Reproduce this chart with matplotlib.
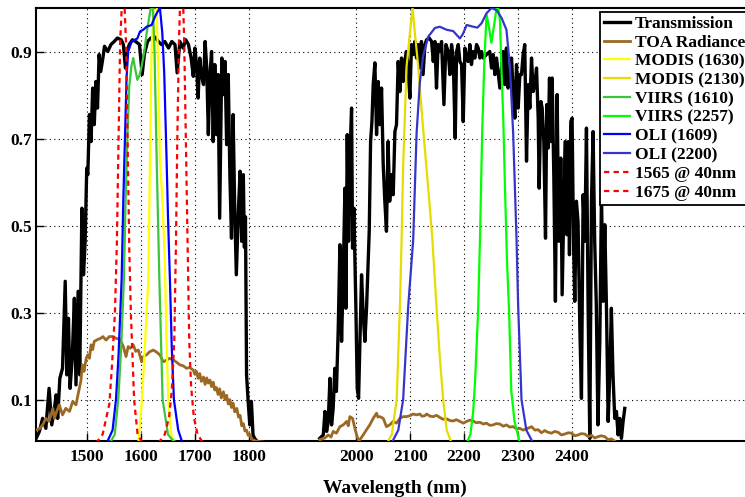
import numpy as np
import matplotlib
matplotlib.use("Agg")
import matplotlib.pyplot as plt

plt.rcParams['font.family'] = ['Liberation Serif', 'DejaVu Serif']
plt.rcParams['font.weight'] = 'bold'

# ---------------- data ----------------
trans_left_wl = [1405, 1411, 1417, 1423, 1429, 1434, 1439, 1442, 1445, 1449, 1454, 1459, 1462, 1465,
                 1468, 1472, 1476, 1479, 1483, 1486, 1490, 1493, 1496, 1499, 1501, 1504, 1507, 1510,
                 1513, 1516, 1519, 1522, 1525, 1529, 1532, 1538, 1544, 1550, 1556, 1563, 1567, 1571,
                 1574, 1578, 1584, 1590, 1597, 1602, 1606, 1612, 1618, 1626, 1632, 1638, 1644, 1651,
                 1657, 1663, 1667, 1672, 1678, 1683, 1688, 1693, 1697, 1700, 1703, 1706, 1709, 1712,
                 1716, 1719, 1722, 1725, 1728, 1731, 1734, 1737, 1740, 1743, 1746, 1750, 1753, 1756,
                 1759, 1762, 1765, 1768, 1771, 1774, 1777, 1781, 1784, 1787, 1790, 1792, 1794, 1796,
                 1799, 1802, 1805, 1808, 1811, 1815]
trans_left = [0.011, 0.027, 0.057, 0.034, 0.126, 0.042, 0.080, 0.111, 0.057, 0.149, 0.172, 0.372, 0.157, 0.287,
              0.126, 0.195, 0.333, 0.134, 0.349, 0.157, 0.540, 0.387, 0.464, 0.632, 0.617, 0.755, 0.693, 0.816,
              0.732, 0.831, 0.770, 0.893, 0.854, 0.885, 0.912, 0.900, 0.916, 0.923, 0.931, 0.927, 0.916, 0.862,
              0.900, 0.916, 0.927, 0.923, 0.916, 0.847, 0.893, 0.923, 0.931, 0.933, 0.923, 0.916, 0.923, 0.908,
              0.923, 0.916, 0.851, 0.923, 0.908, 0.927, 0.916, 0.885, 0.843, 0.908, 0.870, 0.793, 0.885, 0.847,
              0.824, 0.923, 0.862, 0.709, 0.847, 0.900, 0.693, 0.870, 0.709, 0.847, 0.517, 0.885, 0.801, 0.877,
              0.686, 0.847, 0.617, 0.471, 0.755, 0.540, 0.387, 0.540, 0.625, 0.464, 0.617, 0.450, 0.520, 0.157,
              0.096, 0.042, 0.096, 0.019, 0.011, 0.005]

trans_right_wl = [1932, 1938.6, 1941.7, 1944.8, 1947.8, 1951, 1954, 1957, 1960, 1963, 1966.4, 1969.5, 1972.6,
                  1975.7, 1978.8, 1980.7, 1983.1, 1985.6, 1988, 1991.2, 1993, 1995.5, 1999.2, 2001.7, 2004.2,
                  2006.7, 2009.7, 2012.8, 2015.9, 2019, 2024, 2026.5, 2029, 2031.4, 2034.5, 2037.6, 2040.7,
                  2043.8, 2046.9, 2050, 2053, 2056, 2059, 2062, 2065.5, 2068.6, 2071.7, 2074.7, 2077.8, 2080.9,
                  2084, 2087, 2090, 2093, 2096, 2099.5, 2102.6, 2105.7, 2108.8, 2111.9, 2115, 2118, 2121, 2124,
                  2127.5, 2130.6, 2135.5, 2139.9, 2143, 2146, 2149, 2152, 2155.3, 2158.4, 2162.8, 2166.5, 2170.8,
                  2173.9, 2177, 2180, 2183.8, 2186.3, 2189.4, 2192.5, 2195.6, 2198.7, 2201.8, 2204.9, 2208, 2211,
                  2214, 2217, 2220.3, 2223.4, 2226.5, 2229.6, 2232.7, 2235.8, 2242, 2248, 2251.3, 2254.4, 2257.5,
                  2260.6, 2266.8, 2269.9, 2273, 2276, 2279, 2282, 2285.3, 2288.4, 2291.5, 2294.6, 2297.7, 2300.8,
                  2303.9, 2307, 2310, 2313, 2316.3, 2319.4, 2322.5, 2325.6, 2328.7, 2331.8, 2334.9, 2338, 2339.8,
                  2343, 2345.4, 2348.5, 2351.6, 2354, 2356.5, 2359, 2361.5, 2364, 2367, 2370, 2373.2, 2376.3,
                  2380, 2382.5, 2385.6, 2388, 2391.2, 2393.7, 2396.1, 2398.6, 2401, 2403.6, 2406, 2409, 2412,
                  2415.3, 2418.4, 2421.5, 2424.6, 2427.7, 2430.8, 2433.9, 2437, 2440, 2443, 2446, 2449, 2452.5,
                  2455.6, 2458.7, 2461.8, 2464.9, 2468, 2471, 2474, 2477, 2480.3, 2483.4, 2486.5, 2489.6, 2492.7,
                  2495.8, 2498.9]
trans_right = [0.011, 0.019, 0.073, 0.027, 0.050, 0.149, 0.042, 0.080, 0.172, 0.119, 0.264, 0.456, 0.234,
               0.387, 0.586, 0.310, 0.709, 0.464, 0.655, 0.770, 0.448, 0.540, 0.310, 0.126, 0.103,
               0.234, 0.387, 0.295, 0.234, 0.310, 0.487, 0.693, 0.739, 0.824, 0.874, 0.709, 0.831,
               0.732, 0.816, 0.640, 0.556, 0.487, 0.693, 0.556, 0.617, 0.571, 0.716, 0.732, 0.877, 0.808,
               0.885, 0.831, 0.877, 0.900, 0.870, 0.793, 0.916, 0.893, 0.923, 0.885, 0.916, 0.862, 0.923, 0.847,
               0.916, 0.927, 0.931, 0.923, 0.877, 0.923, 0.816, 0.916, 0.900, 0.923, 0.778, 0.916, 0.900,
               0.847, 0.916, 0.885, 0.701, 0.900, 0.916, 0.877, 0.870, 0.739, 0.908, 0.885, 0.877, 0.916,
               0.870, 0.900, 0.885, 0.916, 0.908, 0.885, 0.900, 0.885, 0.893, 0.900, 0.862, 0.893, 0.847,
               0.885, 0.816, 0.862, 0.900, 0.824, 0.908, 0.816, 0.839, 0.885, 0.808, 0.747, 0.870, 0.770,
               0.847, 0.847, 0.893, 0.916, 0.648, 0.824, 0.770, 0.885, 0.808, 0.824, 0.862, 0.747, 0.586,
               0.785, 0.770, 0.693, 0.471, 0.778, 0.678, 0.839, 0.693, 0.839, 0.617, 0.326, 0.801, 0.464,
               0.655, 0.341, 0.540, 0.693, 0.479, 0.693, 0.433, 0.739, 0.747, 0.464, 0.326, 0.556, 0.510,
               0.272, 0.103, 0.571, 0.464, 0.724, 0.310, 0.011, 0.556, 0.716, 0.464, 0.318, 0.042, 0.234,
               0.571, 0.326, 0.502, 0.310, 0.050, 0.157, 0.310, 0.157, 0.057, 0.073, 0.019, 0.057, 0.011,
               0.050, 0.080]

toa_left_wl = [1405, 1411, 1417, 1423, 1429, 1436, 1439, 1442, 1448, 1454, 1460, 1467, 1473, 1479, 1484,
               1488, 1491, 1494, 1498, 1501, 1504, 1507, 1510, 1513, 1519, 1525, 1529, 1535, 1541, 1548,
               1553, 1560.7, 1567, 1572, 1576, 1580, 1585.5, 1590, 1595, 1601, 1605, 1610, 1616, 1622.6,
               1628, 1635, 1641, 1647.4, 1653, 1659.8, 1666, 1672, 1678, 1684.5, 1690, 1697, 1700, 1703,
               1706, 1709, 1712, 1716, 1719, 1722, 1725, 1728, 1731, 1734, 1737, 1740, 1743, 1746, 1749,
               1753, 1756, 1759, 1762, 1765, 1768, 1771, 1774, 1778, 1781, 1784, 1787, 1790, 1793, 1796,
               1799, 1802, 1805, 1811, 1817, 1830, 1846]
toa_left = [0.031, 0.033, 0.042, 0.057, 0.050, 0.080, 0.057, 0.069, 0.088, 0.065, 0.080, 0.073, 0.096, 0.088,
            0.119, 0.142, 0.180, 0.165, 0.195, 0.203, 0.195, 0.226, 0.215, 0.234, 0.238, 0.241, 0.245, 0.237,
            0.245, 0.245, 0.241, 0.239, 0.222, 0.199, 0.222, 0.218, 0.226, 0.211, 0.214, 0.187, 0.200, 0.203,
            0.210, 0.214, 0.210, 0.203, 0.187, 0.191, 0.195, 0.191, 0.186, 0.180, 0.178, 0.172, 0.174, 0.168,
            0.158, 0.165, 0.149, 0.160, 0.142, 0.152, 0.135, 0.150, 0.138, 0.145, 0.130, 0.140, 0.122, 0.128,
            0.112, 0.125, 0.104, 0.118, 0.100, 0.110, 0.090, 0.100, 0.082, 0.092, 0.072, 0.080, 0.060, 0.064,
            0.040, 0.045, 0.028, 0.030, 0.018, 0.020, 0.010, 0.006, 0.004, 0.002, 0.001]

toa_right_wl = [1932, 1941.7, 1947.8, 1953, 1957, 1963, 1969.5, 1975.7, 1981.9, 1985, 1988, 1993, 1997.4,
                2000.5, 2003.6, 2006.7, 2012.8, 2019, 2025, 2031.4, 2037.6, 2040, 2043.8, 2050, 2056, 2062,
                2068.6, 2074.7, 2080.9, 2087, 2093, 2099.5, 2105.7, 2111.9, 2118, 2122, 2127.4, 2130.6,
                2137, 2143, 2149, 2155.3, 2161, 2167.7, 2174, 2180, 2186, 2192.5, 2199, 2204.9, 2211, 2217,
                2223, 2229.6, 2236, 2242, 2248, 2254.4, 2260, 2266.8, 2273, 2279, 2285, 2291.5, 2298, 2304,
                2310, 2316.3, 2322.5, 2325.6, 2332, 2338, 2344, 2350.3, 2356, 2362.7, 2369, 2375, 2381,
                2387.5, 2394, 2400, 2406, 2412.3, 2418, 2424.6, 2431, 2437, 2443, 2449.4, 2455, 2461.8, 2468,
                2474, 2480]
toa_right = [0.008, 0.012, 0.019, 0.014, 0.027, 0.023, 0.038, 0.042, 0.050, 0.040, 0.061, 0.057, 0.034,
             0.019, 0.008, 0.008, 0.019, 0.031, 0.042, 0.057, 0.069, 0.060, 0.061, 0.057, 0.038, 0.042,
             0.050, 0.046, 0.057, 0.061, 0.061, 0.063, 0.067, 0.065, 0.067, 0.062, 0.063, 0.067,
             0.062, 0.061, 0.064, 0.059, 0.055, 0.056, 0.052, 0.051, 0.054, 0.050, 0.046, 0.050, 0.053, 0.051,
             0.047, 0.048, 0.044, 0.046, 0.041, 0.042, 0.045, 0.044, 0.039, 0.042, 0.037, 0.038, 0.033, 0.034,
             0.030, 0.033, 0.036, 0.038, 0.030, 0.031, 0.024, 0.029, 0.025, 0.023, 0.027, 0.025, 0.019,
             0.021, 0.024, 0.023, 0.017, 0.019, 0.022, 0.021, 0.015, 0.018, 0.012, 0.015, 0.017, 0.015, 0.008,
             0.010, 0.005]

modis1630_wl = [1595, 1601.6, 1607, 1613.4, 1616.5, 1619.5, 1622.7, 1626, 1629, 1632, 1635, 1640, 1644, 1647,
                1650.5, 1656, 1663]
modis1630 = [0, 0.1, 0.22, 0.375, 0.65, 0.9, 1.0, 1.03, 1.0, 0.85, 0.65, 0.55, 0.42, 0.25, 0.1, 0.02, 0]

modis2130_wl = [2057, 2066, 2075, 2081, 2084, 2087, 2093.4, 2099.6, 2104.6, 2108.8, 2115, 2121, 2127.5, 2134,
                2141, 2149, 2155, 2161.4, 2168, 2177]
modis2130 = [0, 0.02, 0.1, 0.314, 0.46, 0.636, 0.866, 0.943, 1.0, 0.943, 0.866, 0.77, 0.674, 0.58,
             0.475, 0.314, 0.2, 0.1, 0.03, 0]

viirs1610_wl = [1542, 1551, 1557.6, 1563, 1568, 1571, 1575, 1578, 1582, 1585.5, 1589, 1593, 1597, 1601, 1606,
                1610, 1614, 1618, 1620, 1622, 1625, 1629, 1634, 1640, 1650, 1660, 1670]
viirs1610 = [0, 0.02, 0.1, 0.22, 0.375, 0.55, 0.72, 0.82, 0.866, 0.885, 0.86, 0.835, 0.845, 0.866, 0.9,
             0.94, 0.97, 1.0, 1.01, 1.0, 0.9, 0.65, 0.375, 0.1, 0.02, 0.005, 0]

viirs2257_wl = [2205, 2212, 2217, 2221, 2226.5, 2230, 2234, 2238, 2242, 2246, 2251, 2256, 2260.6, 2264, 2267,
                2270, 2273, 2276, 2280, 2284, 2288, 2294, 2304]
viirs2257 = [0, 0.02, 0.07, 0.15, 0.31, 0.48, 0.72, 0.88, 0.985, 0.96, 0.92, 0.96, 1.0, 1.0, 0.97,
             0.85, 0.75, 0.6, 0.42, 0.3, 0.12, 0.05, 0]

oli1609_wl = [1536, 1547, 1553.3, 1558, 1563.8, 1567, 1570, 1573, 1576, 1582.5, 1588.6, 1593, 1598, 1604,
              1610.4, 1619.6, 1625.8, 1630, 1635, 1639.4, 1643, 1647.4, 1650, 1653.6, 1657, 1661, 1669, 1677]
oli1609 = [0, 0.03, 0.1, 0.2, 0.375, 0.56, 0.7, 0.84, 0.9, 0.923, 0.927, 0.93, 0.946, 0.95,
           0.957, 0.961, 0.98, 0.99, 1.0, 0.943, 0.85, 0.651, 0.52, 0.375, 0.22, 0.1, 0.03, 0]

oli2200_wl = [2065.5, 2078, 2087, 2096.4, 2105.7, 2112, 2118, 2124, 2133.6, 2146, 2155, 2167.8, 2180, 2192.5,
              2198, 2205, 2217, 2225, 2232.8, 2242, 2251.4, 2260.7, 2270, 2279, 2285.4, 2291.5, 2297.8, 2300.8,
              2307, 2316, 2328.7]
oli2200 = [0, 0.03, 0.1, 0.314, 0.467, 0.712, 0.828, 0.889, 0.934, 0.954, 0.957, 0.95, 0.947, 0.93,
           0.94, 0.961, 0.957, 0.955, 0.965, 0.988, 1.0, 0.995, 0.977, 0.95, 0.866, 0.712, 0.467, 0.314,
           0.1, 0.03, 0]

g1565_wl = [1516, 1528.5, 1541, 1546, 1551.4, 1555, 1558, 1561, 1564, 1567, 1569.4, 1572, 1575, 1578, 1581,
            1587, 1593.5, 1603]
g1565 = [0, 0.02, 0.09, 0.18, 0.3, 0.46, 0.69, 0.92, 1.0, 1.06, 1.0, 0.92, 0.69, 0.45, 0.3, 0.1, 0.02, 0]

g1675_wl = [1632, 1644, 1652, 1657, 1661.7, 1664.8, 1667.2, 1670.3, 1672.2, 1675, 1678.4, 1680.2, 1683.3,
            1686.4, 1689.5, 1693, 1698, 1705, 1715.5]
g1675 = [0, 0.02, 0.06, 0.12, 0.234, 0.46, 0.69, 0.92, 1.0, 1.06, 1.0, 0.92, 0.69, 0.46, 0.234, 0.13,
         0.06, 0.02, 0]

xticks = [1500, 1600, 1700, 1800, 2000, 2100, 2200, 2300, 2400]
yticks = [0.1, 0.3, 0.5, 0.7, 0.9]

# ---------------- figure ----------------
fig = plt.figure(figsize=(7.45, 4.97), dpi=100)
ax = fig.add_axes([36 / 745, 56 / 497, (754.5 - 36) / 745, 433 / 497])

trans_wl = trans_left_wl + [1870] + trans_right_wl
trans = trans_left + [np.nan] + trans_right
toa_wl = toa_left_wl + [1890] + toa_right_wl
toa = toa_left + [np.nan] + toa_right

ax.plot(trans_wl, trans, color='black', lw=2.4, label='Transmission', zorder=3)
ax.plot(toa_wl, toa, color='#9B6923', lw=2.0, label='TOA Radiance', zorder=3)
ax.plot(modis1630_wl, modis1630, color='#FFFF00', lw=1.6, label='MODIS (1630)', zorder=4)
ax.plot(modis2130_wl, modis2130, color='#E6DC00', lw=1.6, label='MODIS (2130)', zorder=4)
ax.plot(viirs1610_wl, viirs1610, color='#3CC43C', lw=1.6, label='VIIRS (1610)', zorder=4)
ax.plot(viirs2257_wl, viirs2257, color='#00FF00', lw=1.6, label='VIIRS (2257)', zorder=4)
ax.plot(oli1609_wl, oli1609, color='#0000FF', lw=1.6, label='OLI (1609)', zorder=4)
ax.plot(oli2200_wl, oli2200, color='#3535CC', lw=1.6, label='OLI (2200)', zorder=4)
ax.plot(g1565_wl, g1565, color='#FF0000', lw=1.6, ls=(0, (2.4, 1.9)), label='1565 @ 40nm', zorder=5)
ax.plot(g1675_wl, g1675, color='#FF0000', lw=1.6, ls=(0, (2.4, 1.9)), label='1675 @ 40nm', zorder=5)

ax.set_xlim(1404.7, 2740)
ax.set_ylim(0.005, 1.0)
ax.set_xticks(xticks)
ax.set_xticklabels([str(t) for t in xticks])
ax.set_yticks(yticks)
ax.set_yticklabels([f'{t:.1f}' for t in yticks])
ax.tick_params(direction='in', length=6, width=1, labelsize=12.5, pad=3)
ax.tick_params(axis='x', pad=6)
ax.grid(True, linestyle=(0, (1, 3)), color='black', linewidth=0.8)
ax.set_axisbelow(True)
for s in ax.spines.values():
    s.set_linewidth(1.5)

ax.set_xlabel('Wavelength (nm)', fontsize=14, fontweight='bold', labelpad=10)

leg = ax.legend(loc='upper left', bbox_to_anchor=(600 / 745, 1 - 12 / 497),
                bbox_transform=fig.transFigure,
                prop={'family': 'Liberation Serif', 'weight': 'bold', 'size': 12.5},
                frameon=True, fancybox=False, edgecolor='black', framealpha=1,
                borderpad=0.22, labelspacing=0.15, handlelength=1.5, handletextpad=0.27,
                borderaxespad=0)
leg.get_frame().set_linewidth(1.3)
leg.set_zorder(10)

fig.savefig('out.png', dpi=100)
